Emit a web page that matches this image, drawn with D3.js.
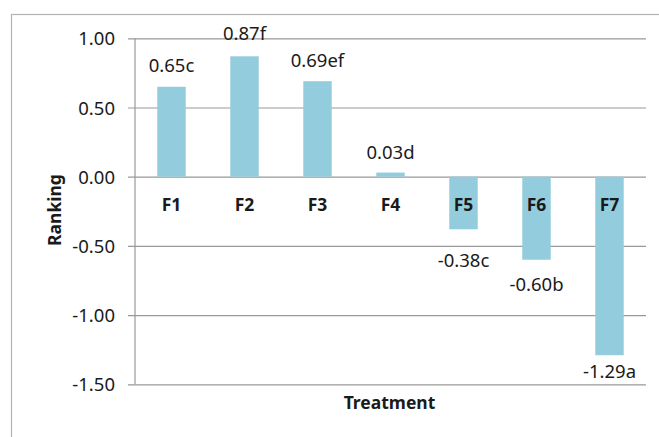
<!DOCTYPE html>
<html>
<head>
<meta charset="utf-8">
<script src="https://cdn.jsdelivr.net/npm/d3@7"></script>
<style>
  html, body { margin: 0; padding: 0; background: #fff; }
  svg { display: block; }
  text { font-family: "Noto Sans", "Open Sans", sans-serif; fill: #1a1a1a; }
</style>
</head>
<body>
<svg id="chart" width="659" height="437"></svg>
<script>
// ---- data ----
const categories = ["F1", "F2", "F3", "F4", "F5", "F6", "F7"];
const values = [0.65, 0.87, 0.69, 0.03, -0.38, -0.60, -1.29];
const letters = ["c", "f", "ef", "d", "c", "b", "a"];
const yTicks = [1.0, 0.5, 0.0, -0.5, -1.0, -1.5];
const labelGap = [15, 16, 14, 14, 38, 31, 23]; // label distance from bar end
const xTitle = "Treatment";
const yTitle = "Ranking";

// ---- layout ----
const svg = d3.select("#chart");
const W = 659, H = 437;
const plot = { left: 135, right: 646, top: 38.3, bottom: 384.3 };
const fmt = v => d3.format(".2f")(v).replace("\u2212", "-");

// outer frame (cut off at right & bottom in the reference)
svg.append("rect")
  .attr("x", 11.5).attr("y", 14.5)
  .attr("width", W + 20).attr("height", H + 20)
  .attr("fill", "none").attr("stroke", "#b3b3b3").attr("stroke-width", 1.2);

const y = d3.scaleLinear().domain([-1.5, 1.0]).range([plot.bottom, plot.top]);
const x = d3.scaleBand().domain(categories)
  .range([plot.left, plot.right]).paddingInner(0.61).paddingOuter(0.305);

// gridlines + tick marks via axis
const yAxis = d3.axisLeft(y).tickValues(yTicks)
  .tickSize(-(plot.right - plot.left))
  .tickFormat(fmt)
  .tickPadding(0);
const gy = svg.append("g").attr("transform", `translate(${plot.left},0)`).call(yAxis);
gy.select(".domain").remove();
gy.selectAll(".tick line").attr("stroke", "#999").attr("stroke-width", 1.2).attr("x1", -7);
gy.selectAll(".tick text")
  .attr("x", -20).attr("dy", "0.36em")
  .style("font-size", "18.5px").attr("fill", "#1a1a1a");

// y axis line
svg.append("line")
  .attr("x1", plot.left).attr("x2", plot.left)
  .attr("y1", y(1.0)).attr("y2", y(-1.5))
  .attr("stroke", "#999").attr("stroke-width", 1.2);

// bars
svg.append("g").selectAll("rect").data(values).join("rect")
  .attr("x", (d, i) => x(categories[i]))
  .attr("width", x.bandwidth())
  .attr("y", d => y(Math.max(0, d)))
  .attr("height", d => Math.abs(y(d) - y(0)))
  .attr("fill", "#93cddd");

// category labels (drawn over bars)
svg.append("g").selectAll("text").data(categories).join("text")
  .attr("x", d => x(d) + x.bandwidth() / 2)
  .attr("y", 211)
  .attr("text-anchor", "middle")
  .style("font-size", "17.5px").style("font-weight", "bold")
  .text(d => d);

// data labels
svg.append("g").selectAll("text").data(values).join("text")
  .attr("x", (d, i) => x(categories[i]) + x.bandwidth() / 2)
  .attr("y", (d, i) => d >= 0 ? y(d) - labelGap[i] : y(d) + labelGap[i])
  .attr("text-anchor", "middle")
  .style("font-size", "18.5px")
  .text((d, i) => fmt(d) + letters[i]);

// axis titles
svg.append("text")
  .attr("x", (plot.left + plot.right) / 2 - 1)
  .attr("y", 409)
  .attr("text-anchor", "middle")
  .style("font-size", "17.5px").style("font-weight", "bold")
  .text(xTitle);

svg.append("text")
  .attr("transform", "translate(61,210) rotate(-90)")
  .attr("text-anchor", "middle")
  .style("font-size", "17.5px").style("font-weight", "bold")
  .text(yTitle);
</script>
</body>
</html>
